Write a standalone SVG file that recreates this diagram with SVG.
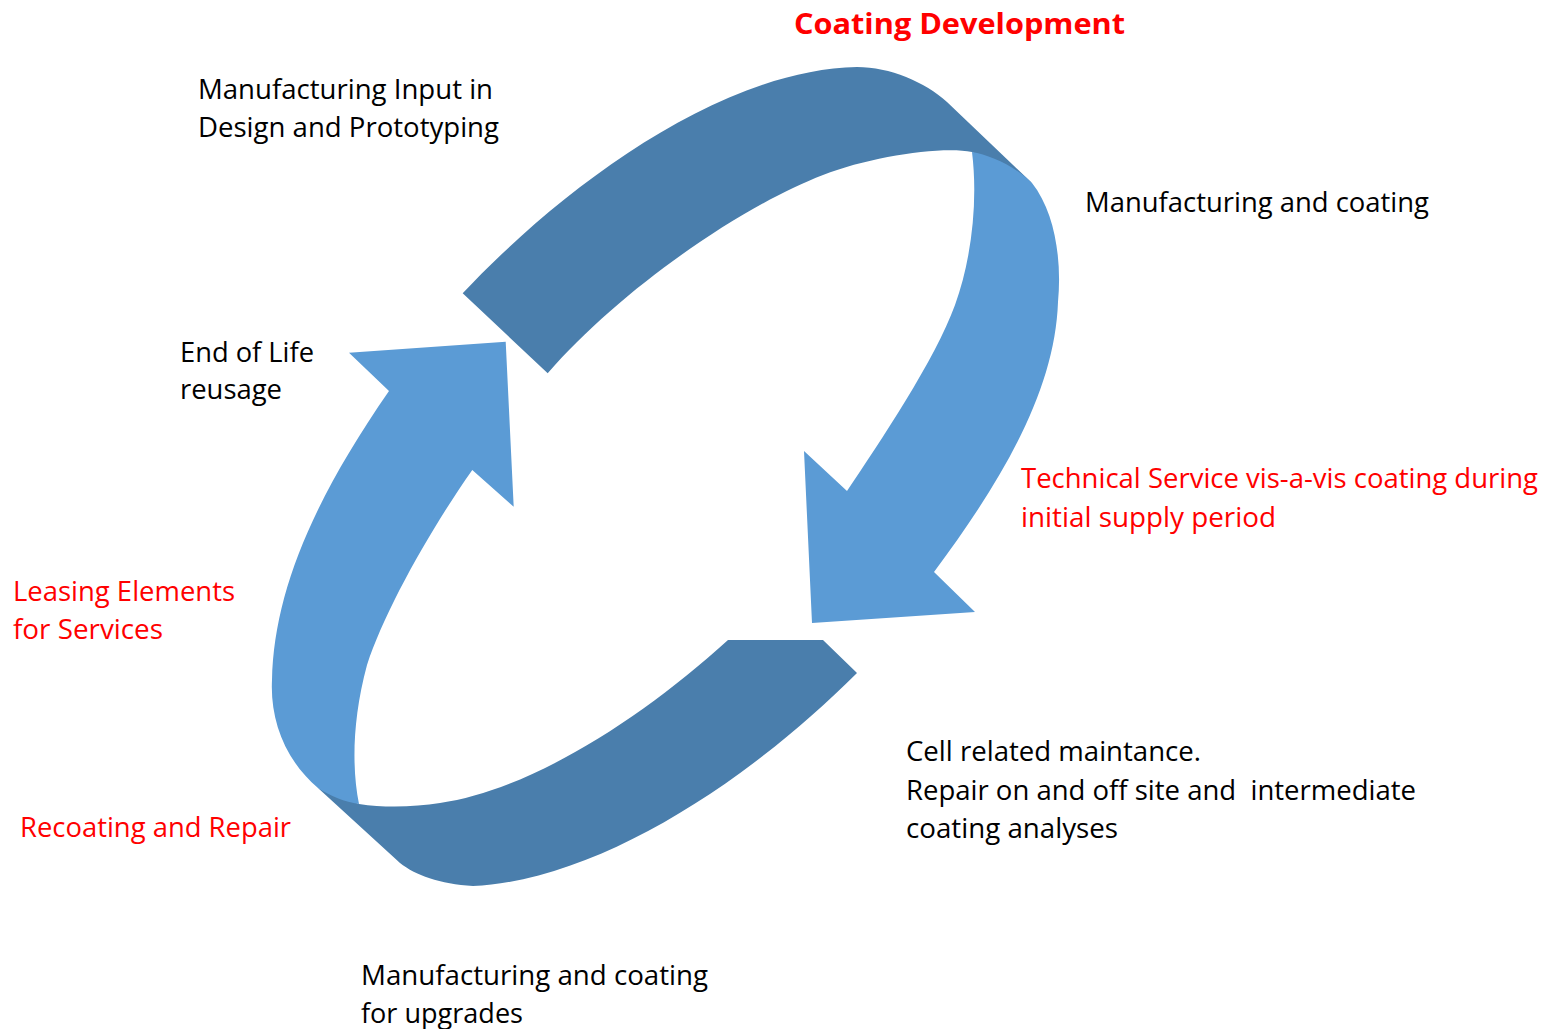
<svg xmlns="http://www.w3.org/2000/svg" width="1545" height="1029" viewBox="0 0 1545 1029">
  <style>
    .dark { fill: #4A7EAC; }
    .light { fill: #5B9BD5; }
    .lbl { font-family: "Open Sans", "Noto Sans", sans-serif; font-size: 28px; fill: #000000; }
    .red { fill: #FF0000; }
    .title { font-family: "Open Sans", "Noto Sans", sans-serif; font-size: 28px; font-weight: bold; fill: #FF0000; }
  </style>
  <rect x="0" y="0" width="1545" height="1029" fill="#FFFFFF"/>

  <g id="cycle-arrows">
    <g id="band-top">
      <path class="dark" d="M462.7,293.3 C555,195 715,70 857,67 C890,67 925,82 947,102 L1032,183 L972,152 C940,146 870,157 823,175 C740,207 620,290 547.7,373.3 Z"/>
    </g>
    <g id="arrow-right">
      <path class="light" d="M972,152 C990,155 1015,166 1032,183 C1055,212 1062,260 1058,302 C1055,385 1010,470 934,572 L975,612 L812,623 L804,451 L847,491 C880,442 935,360 955,305 C972,258 978,200 972,152 Z"/>
    </g>
    <g id="band-bottom">
      <path class="dark" d="M318,788 L400,863 C415,875 440,884 473,886 C600,880 750,780 857,673 L823,640 L728,640 C640,720 530,790 440,803 C415,807 385,808 359,804 Z"/>
    </g>
    <g id="arrow-left">
      <path class="light" d="M472.3,470 C430,530 385,610 367,665 C352,720 352,770 359,804 C345,802 330,796 318,788 C285,760 270,720 272,680 C274,595 310,505 389,391 L349,352.7 L505.7,341.7 L513.7,506.7 Z"/>
    </g>
  </g>

  <g id="label-title">
    <text class="title" x="794" y="34" textLength="331" lengthAdjust="spacingAndGlyphs">Coating Development</text>
  </g>
  <g id="label-design">
    <text class="lbl" x="198" y="99" textLength="295" lengthAdjust="spacingAndGlyphs">Manufacturing Input in</text>
    <text class="lbl" x="198" y="136.5" textLength="301" lengthAdjust="spacingAndGlyphs">Design and Prototyping</text>
  </g>
  <g id="label-manufacturing">
    <text class="lbl" x="1085" y="212" textLength="344" lengthAdjust="spacingAndGlyphs">Manufacturing and coating</text>
  </g>
  <g id="label-technical">
    <text class="lbl red" x="1021" y="488" textLength="517" lengthAdjust="spacingAndGlyphs">Technical Service vis-a-vis coating during</text>
    <text class="lbl red" x="1021" y="526.5" textLength="255" lengthAdjust="spacingAndGlyphs">initial supply period</text>
  </g>
  <g id="label-maintenance">
    <text class="lbl" x="906" y="761" textLength="295" lengthAdjust="spacingAndGlyphs">Cell related maintance.</text>
    <text class="lbl" x="906" y="799.5" textLength="510" lengthAdjust="spacingAndGlyphs" xml:space="preserve">Repair on and off site and  intermediate</text>
    <text class="lbl" x="906" y="838" textLength="212" lengthAdjust="spacingAndGlyphs">coating analyses</text>
  </g>
  <g id="label-upgrades">
    <text class="lbl" x="361" y="985" textLength="347" lengthAdjust="spacingAndGlyphs">Manufacturing and coating</text>
    <text class="lbl" x="361" y="1023" textLength="162" lengthAdjust="spacingAndGlyphs">for upgrades</text>
  </g>
  <g id="label-recoating">
    <text class="lbl red" x="20" y="837" textLength="271" lengthAdjust="spacingAndGlyphs">Recoating and Repair</text>
  </g>
  <g id="label-leasing">
    <text class="lbl red" x="13" y="601" textLength="222" lengthAdjust="spacingAndGlyphs">Leasing Elements</text>
    <text class="lbl red" x="13" y="639" textLength="150" lengthAdjust="spacingAndGlyphs">for Services</text>
  </g>
  <g id="label-endoflife">
    <text class="lbl" x="180" y="361.5" textLength="134" lengthAdjust="spacingAndGlyphs">End of Life</text>
    <text class="lbl" x="180" y="398.5" textLength="102" lengthAdjust="spacingAndGlyphs">reusage</text>
  </g>
</svg>
